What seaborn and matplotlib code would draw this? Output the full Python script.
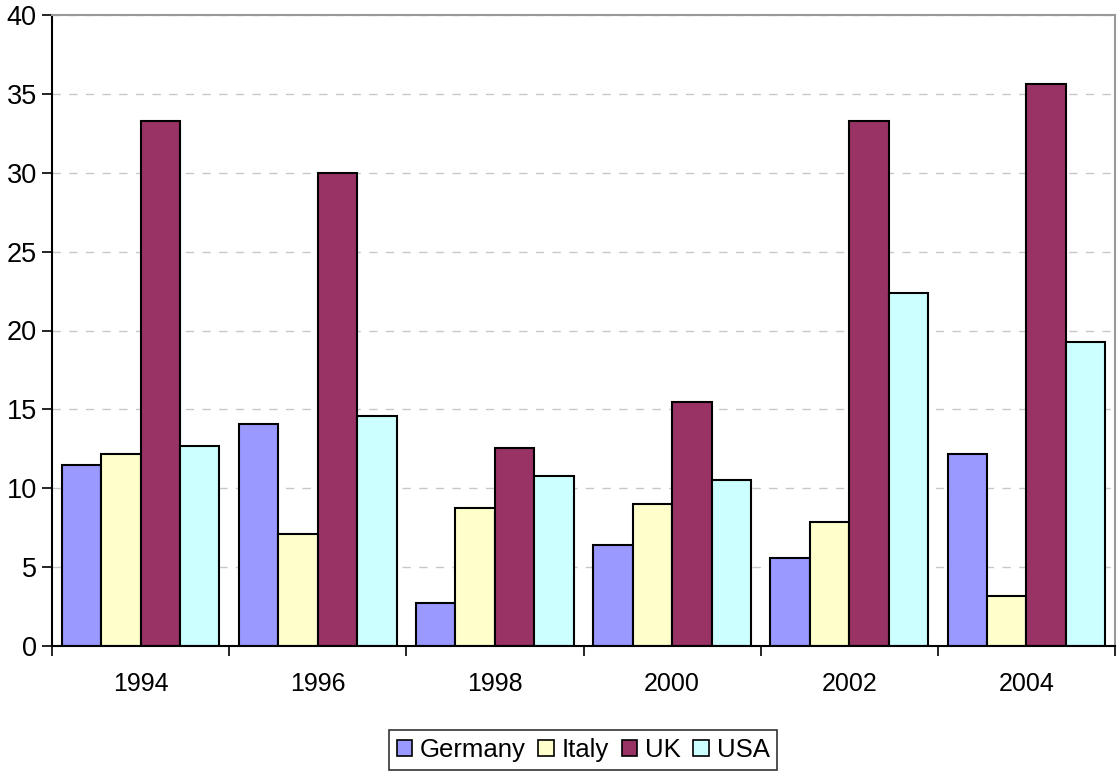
import matplotlib
matplotlib.use("Agg")
import matplotlib.pyplot as plt
import seaborn as sns
import pandas as pd
from matplotlib.patches import Patch

years = ["1994", "1996", "1998", "2000", "2002", "2004"]
countries = ["Germany", "Italy", "UK", "USA"]
germany = [11.5, 14.05, 2.7, 6.4, 5.6, 12.15]
italy = [12.15, 7.1, 8.75, 9.0, 7.85, 3.2]
uk = [33.3, 30.0, 12.55, 15.45, 33.3, 35.6]
usa = [12.65, 14.55, 10.75, 10.5, 22.4, 19.25]
colors = ["#9999FF", "#FFFFCC", "#993366", "#CCFFFF"]

rows = []
for c, vals in zip(countries, [germany, italy, uk, usa]):
    for y, v in zip(years, vals):
        rows.append({"year": y, "country": c, "value": v})
df = pd.DataFrame(rows)

sns.set_style("white")
plt.rcParams["font.family"] = ["Liberation Sans", "DejaVu Sans"]
plt.rcParams["text.color"] = "black"

fig = plt.figure(figsize=(11.2, 7.75), dpi=100)
ax = fig.add_axes([52/1120, 1-646/775, (1115-52)/1120, (646-15)/775])
sns.barplot(data=df, x="year", y="value", hue="country", order=years,
            hue_order=countries, palette=colors, width=0.89, saturation=1,
            edgecolor="black", linewidth=1.5, ax=ax, legend=False, errorbar=None)

ax.set_ylim(0, 40)
ax.set_xlim(-0.5, len(years) - 0.5)
ax.set_yticks(range(0, 41, 5))
ax.yaxis.grid(True, linestyle=(0, (6, 6)), color="#C8C8C8", linewidth=1)
ax.set_axisbelow(True)
ax.set_xlabel("")
ax.set_ylabel("")
ax.tick_params(axis="y", labelsize=19.5, length=7, width=1.2, color="black",
               labelcolor="black", left=True, pad=4)
ax.tick_params(axis="x", which="major", labelsize=18, length=0, pad=19, labelcolor="black")
ax.set_xticks([i - 0.5 for i in range(len(years) + 1)], minor=True)
ax.tick_params(axis="x", which="minor", length=7, width=1.2, color="black", bottom=True)
for s in ["left", "bottom"]:
    ax.spines[s].set_color("black")
    ax.spines[s].set_linewidth(1.5)
for s in ["top", "right"]:
    ax.spines[s].set_color("#999999")
    ax.spines[s].set_linewidth(1.5)

handles = [Patch(facecolor=c, edgecolor="black", linewidth=1.2, label=n) for c, n in zip(colors, countries)]
leg = fig.legend(handles=handles, loc="center", bbox_to_anchor=(583/1120, 1-750/775), ncol=4,
                 fontsize=18.5, frameon=True, fancybox=False, edgecolor="black",
                 handlelength=0.6, handleheight=0.6, handletextpad=0.3, columnspacing=0.5,
                 borderpad=0.3, labelcolor="black")
leg.get_frame().set_linewidth(1.2)

fig.savefig("out.png", dpi=100)
